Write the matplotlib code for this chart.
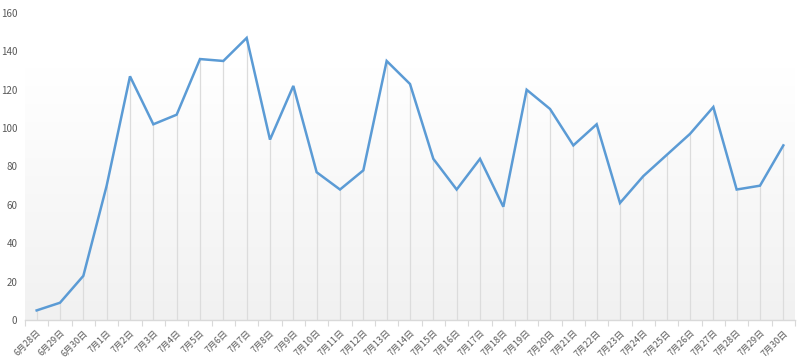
import matplotlib
matplotlib.use("Agg")
import matplotlib.pyplot as plt
import numpy as np

plt.rcParams['font.family'] = ['Noto Sans CJK SC', 'DejaVu Sans']

dates = ["6月28日", "6月29日", "6月30日"] + [f"7月{d}日" for d in range(1, 31)]
values = [5, 9, 23, 70, 127, 102, 107, 136, 135, 147, 94, 122, 77, 68, 78, 135, 123,
          84, 68, 84, 59, 120, 110, 91, 102, 61, 75, 86, 97, 111, 68, 70, 91]
yticks = [0, 20, 40, 60, 80, 100, 120, 140, 160]

W, H = 800, 361
fig = plt.figure(figsize=(W / 100, H / 100), dpi=100)
left, right, top, bottom = 25, 795, 13, 320
ax = fig.add_axes([left / W, 1 - bottom / H, (right - left) / W, (bottom - top) / H])

n = len(values)
x = np.arange(n)
ax.set_xlim(-0.5, n - 0.5)
ax.set_ylim(0, 160)

# gradient background
t = np.linspace(0, 1, 256)
shade = 0.945 + (1.0 - 0.945) * np.clip(t / 0.82, 0, 1)
img = np.dstack([shade, shade, shade]).reshape(256, 1, 3)
ax.imshow(img, extent=[-0.5, n - 0.5, 0, 160], origin='lower', aspect='auto', zorder=0)

# drop lines
ax.vlines(x, 0, values, colors='#dcdcdc', linewidth=0.9, zorder=1)
ax.plot(x, values, color='#5b9bd5', linewidth=1.8, zorder=3, solid_joinstyle='miter')

for s in ['top', 'right', 'left']:
    ax.spines[s].set_visible(False)
ax.spines['bottom'].set_color('#d9d9d9')
ax.spines['bottom'].set_linewidth(1)

ax.set_yticks(yticks)
ax.set_yticklabels([str(v) for v in yticks], fontsize=7, color='#595959')
ax.tick_params(axis='y', length=0, pad=5.5)

ax.set_xticks(np.arange(-0.5, n, 1.0), minor=False)
ax.set_xticklabels([])
ax.tick_params(axis='x', which='major', length=4, color='#d9d9d9', direction='out')
ax.set_xticks(x, minor=True)
ax.set_xticklabels(dates, minor=True, rotation=45, ha='right', rotation_mode='anchor',
                   fontsize=6.5, color='#595959')
ax.tick_params(axis='x', which='minor', length=0, pad=6)

fig.savefig("out.png", dpi=100, facecolor='white')
